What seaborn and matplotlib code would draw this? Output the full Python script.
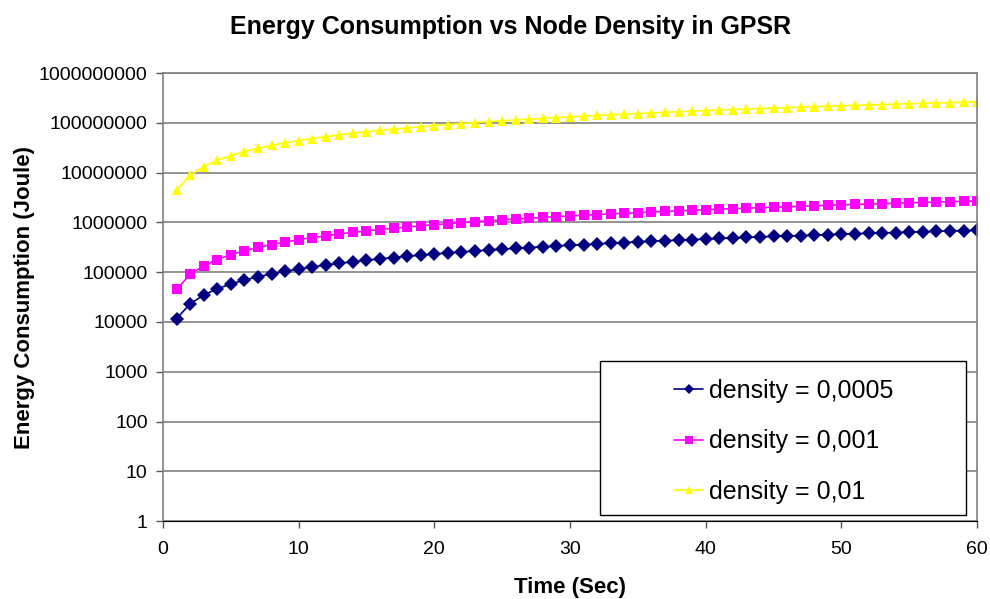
import pandas as pd
import seaborn as sns
from matplotlib import pyplot as plt
from matplotlib.patches import Rectangle

# time in seconds
tempo = list(range(1, 61))

# energy (Joule)
dens_0005 = [11600, 23200, 34800, 46400, 58000, 69600, 81200, 92800, 104000, 116000,
             128000, 139000, 151000, 162000, 174000, 186000, 197000, 209000, 220000, 232000,
             244000, 255000, 267000, 278000, 290000, 302000, 313000, 325000, 336000, 348000,
             360000, 371000, 383000, 394000, 406000, 418000, 429000, 441000, 452000, 464000,
             476000, 487000, 499000, 510000, 522000, 534000, 545000, 557000, 568000, 580000,
             592000, 603000, 615000, 626000, 638000, 650000, 661000, 673000, 684000, 696000]
dens_001 = [45000, 90000, 135000, 180000, 225000, 270000, 315000, 360000, 405000, 450000,
            495000, 540000, 585000, 630000, 675000, 720000, 765000, 810000, 855000, 900000,
            945000, 990000, 1035000, 1080000, 1125000, 1170000, 1215000, 1260000, 1305000, 1350000,
            1395000, 1440000, 1485000, 1530000, 1575000, 1620000, 1665000, 1710000, 1755000, 1800000,
            1845000, 1890000, 1935000, 1980000, 2025000, 2070000, 2115000, 2160000, 2205000, 2250000,
            2295000, 2340000, 2385000, 2430000, 2475000, 2520000, 2565000, 2610000, 2655000, 2700000]
dens_01 = [4.4e6, 8.8e6, 13.2e6, 17.6e6, 22.0e6, 26.4e6, 30.8e6, 35.2e6, 39.6e6, 44.0e6,
           48.4e6, 52.8e6, 57.2e6, 61.6e6, 66.0e6, 70.4e6, 74.8e6, 79.2e6, 83.6e6, 88.0e6,
           92.4e6, 96.8e6, 101.2e6, 105.6e6, 110.0e6, 114.4e6, 118.8e6, 123.2e6, 127.6e6, 132.0e6,
           136.4e6, 140.8e6, 145.2e6, 149.6e6, 154.0e6, 158.4e6, 162.8e6, 167.2e6, 171.6e6, 176.0e6,
           180.4e6, 184.8e6, 189.2e6, 193.6e6, 198.0e6, 202.4e6, 206.8e6, 211.2e6, 215.6e6, 220.0e6,
           224.4e6, 228.8e6, 233.2e6, 237.6e6, 242.0e6, 246.4e6, 250.8e6, 255.2e6, 259.6e6, 264.0e6]

nomes = ["density = 0,0005", "density = 0,001", "density = 0,01"]
cores = ["#000080", "#ff00ff", "#ffff00"]
marcadores = ["D", "s", "^"]

dados = pd.DataFrame({
    "tempo": tempo * 3,
    "energia": dens_0005 + dens_001 + dens_01,
    "serie": [nomes[0]] * 60 + [nomes[1]] * 60 + [nomes[2]] * 60,
})

sns.set_style("white")
plt.rcParams['font.family'] = ['Liberation Sans', 'DejaVu Sans']
plt.rcParams['text.color'] = 'black'
plt.rcParams['axes.labelcolor'] = 'black'
plt.rcParams['xtick.color'] = 'black'
plt.rcParams['ytick.color'] = 'black'

fig = plt.figure(figsize=(9.9, 5.99), dpi=100)
ax = fig.add_axes([0.1646, 0.130, 0.8224, 0.748])

sns.lineplot(data=dados, x="tempo", y="energia", hue="serie", style="serie",
             palette=cores, markers=marcadores, dashes=False, markersize=7,
             markeredgewidth=0, linewidth=1.2, ax=ax)

ax.set_yscale("log")
ax.set_ylim(1, 1e9)
ax.set_xlim(0, 60)
ax.set_xticks(range(0, 61, 10))
ax.set_yticks([10 ** i for i in range(10)])
ax.set_yticklabels([str(10 ** i) for i in range(10)])
ax.minorticks_off()
ax.yaxis.grid(True, color="#808080", linewidth=1.2)
ax.tick_params(axis="both", direction="out", length=5, width=1, color="#555555",
               labelsize=14, bottom=True, left=True, pad=6)
ax.tick_params(axis="x", pad=9)
for lado in ["left", "top", "right"]:
    ax.spines[lado].set_color("#808080")
    ax.spines[lado].set_linewidth(1.2)
ax.spines["bottom"].set_color("black")

ax.set_xlabel("Time (Sec)", fontsize=16, fontweight="bold", labelpad=14)
ax.set_ylabel("Energy Consumption (Joule)", fontsize=16, fontweight="bold")
ax.yaxis.set_label_coords(-0.157, 0.5)
fig.suptitle("Energy Consumption vs Node Density in GPSR", fontsize=18, fontweight="bold",
             x=0.516, y=0.975)

# legend box like the spreadsheet one, entries centred inside
ax.add_patch(Rectangle((0.537, 0.0134), 0.4495, 0.3436, transform=ax.transAxes,
                       facecolor="white", edgecolor="black", linewidth=1.0, zorder=5))
leg = ax.legend(loc="center", bbox_to_anchor=(0.763, 0.178), fontsize=18,
                frameon=False, labelspacing=1.05, handlelength=1.15,
                handletextpad=0.25, borderaxespad=0, markerscale=0.75)
leg.set_zorder(6)

plt.savefig("out.png", dpi=100, facecolor="white")
